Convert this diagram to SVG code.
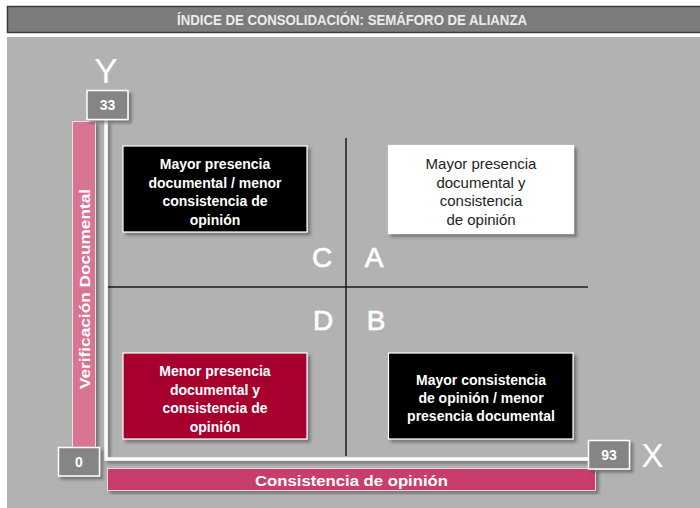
<svg xmlns="http://www.w3.org/2000/svg" width="700" height="508" viewBox="0 0 700 508">
  <defs>
    <filter id="sh" x="-10%" y="-10%" width="130%" height="130%">
      <feDropShadow dx="3" dy="3" stdDeviation="1.5" flood-color="#4a4a4a" flood-opacity="0.55"/>
    </filter>
  </defs>
  <style>
    .lbl { font-family: "Liberation Sans", Arial, sans-serif; font-weight: bold; font-size: 14px; fill: #ffffff; text-anchor: middle; }
    .lbln { font-family: "Liberation Sans", Arial, sans-serif; font-size: 15px; fill: #1e1e1e; text-anchor: middle; }
    .big { font-family: "Liberation Sans", Arial, sans-serif; fill: #ffffff; text-anchor: middle; }
    .quad { stroke: #ffffff; stroke-width: 0.7; }
    .num { font-family: "Liberation Sans", Arial, sans-serif; font-weight: bold; font-size: 14px; fill: #ffffff; text-anchor: middle; }
    .numbox { fill: #858586; stroke: #ffffff; stroke-width: 1.5; }
    .box { stroke: #ffffff; stroke-width: 1.2; }
    .qline { stroke: #1a1a1a; stroke-width: 1.5; fill: none; }
  </style>

  <rect x="0" y="0" width="700" height="508" fill="#ffffff"/>

  <g id="title">
    <rect x="7.5" y="6.5" width="700" height="26" fill="#7c7c7d" stroke="#3a3a3a" stroke-width="1.5"/>
    <text x="352" y="24.5" font-family="Liberation Sans, Arial, sans-serif" font-weight="bold" font-size="14" fill="#ececec" text-anchor="middle" textLength="350" lengthAdjust="spacingAndGlyphs">ÍNDICE DE CONSOLIDACIÓN: SEMÁFORO DE ALIANZA</text>
  </g>

  <g id="panel">
    <rect x="7" y="37" width="693" height="471" fill="#b2b2b3"/>
  </g>

  <g id="y-bar">
    <rect x="72.5" y="121.5" width="23" height="326" fill="#d87592" stroke="#f3dbe2" stroke-width="1" filter="url(#sh)"/>
    <text class="lbl" font-size="16.5" transform="translate(89.5 289) rotate(-90)" textLength="200" lengthAdjust="spacingAndGlyphs">Verificación Documental</text>
  </g>

  <g id="x-bar">
    <rect x="107.5" y="468.5" width="488" height="22" fill="#c93e6a" stroke="#f3d3dd" stroke-width="1" filter="url(#sh)"/>
    <text class="lbl" font-size="16.5" x="351.5" y="485.5" textLength="193" lengthAdjust="spacingAndGlyphs">Consistencia de opinión</text>
  </g>

  <g id="axes">
    <path d="M106 120 V459 H590" fill="none" stroke="#ffffff" stroke-width="3.5" filter="url(#sh)"/>
  </g>

  <g id="connectors">
    <line class="qline" x1="346" y1="138" x2="346" y2="456"/>
    <line class="qline" x1="108" y1="287" x2="588" y2="287"/>
  </g>

  <g id="label-y">
    <text class="big" x="106" y="83" font-size="35">Y</text>
  </g>
  <g id="label-x">
    <text class="big" x="652.5" y="467" font-size="33">X</text>
  </g>

  <g id="max-y">
    <rect class="numbox" x="87" y="90.5" width="41" height="29" filter="url(#sh)"/>
    <text class="num" x="107.5" y="110">33</text>
  </g>
  <g id="origin">
    <rect class="numbox" x="58.5" y="447.5" width="41" height="28.5" filter="url(#sh)"/>
    <text class="num" x="79" y="467">0</text>
  </g>
  <g id="max-x">
    <rect class="numbox" x="588.5" y="440.5" width="41" height="28.5" filter="url(#sh)"/>
    <text class="num" x="609" y="460">93</text>
  </g>

  <g id="quad-C">
    <rect class="box" x="123" y="146" width="184" height="86" fill="#000000" filter="url(#sh)"/>
    <text class="lbl" x="215" y="169">Mayor presencia</text>
    <text class="lbl" x="215" y="187.5">documental / menor</text>
    <text class="lbl" x="215" y="206">consistencia de</text>
    <text class="lbl" x="215" y="224.5">opinión</text>
  </g>

  <g id="quad-A">
    <rect class="box" x="388.5" y="145.5" width="185" height="88" fill="#ffffff" filter="url(#sh)"/>
    <text class="lbln" x="481" y="169">Mayor presencia</text>
    <text class="lbln" x="481" y="187.5">documental y</text>
    <text class="lbln" x="481" y="206">consistencia</text>
    <text class="lbln" x="481" y="224.5">de opinión</text>
  </g>

  <g id="quad-D">
    <rect class="box" x="123" y="353" width="184" height="86" fill="#a8002e" filter="url(#sh)"/>
    <text class="lbl" x="215" y="376">Menor presencia</text>
    <text class="lbl" x="215" y="394.5">documental y</text>
    <text class="lbl" x="215" y="413">consistencia de</text>
    <text class="lbl" x="215" y="431.5">opinión</text>
  </g>

  <g id="quad-B">
    <rect class="box" x="388.5" y="353" width="184.5" height="86" fill="#000000" filter="url(#sh)"/>
    <text class="lbl" x="481" y="385">Mayor consistencia</text>
    <text class="lbl" x="481" y="403">de opinión / menor</text>
    <text class="lbl" x="481" y="421">presencia documental</text>
  </g>

  <g id="letters">
    <text class="big quad" x="322" y="267" font-size="28">C</text>
    <text class="big quad" x="374" y="267" font-size="28">A</text>
    <text class="big quad" x="323" y="330" font-size="28">D</text>
    <text class="big quad" x="376" y="330" font-size="28">B</text>
  </g>
</svg>
